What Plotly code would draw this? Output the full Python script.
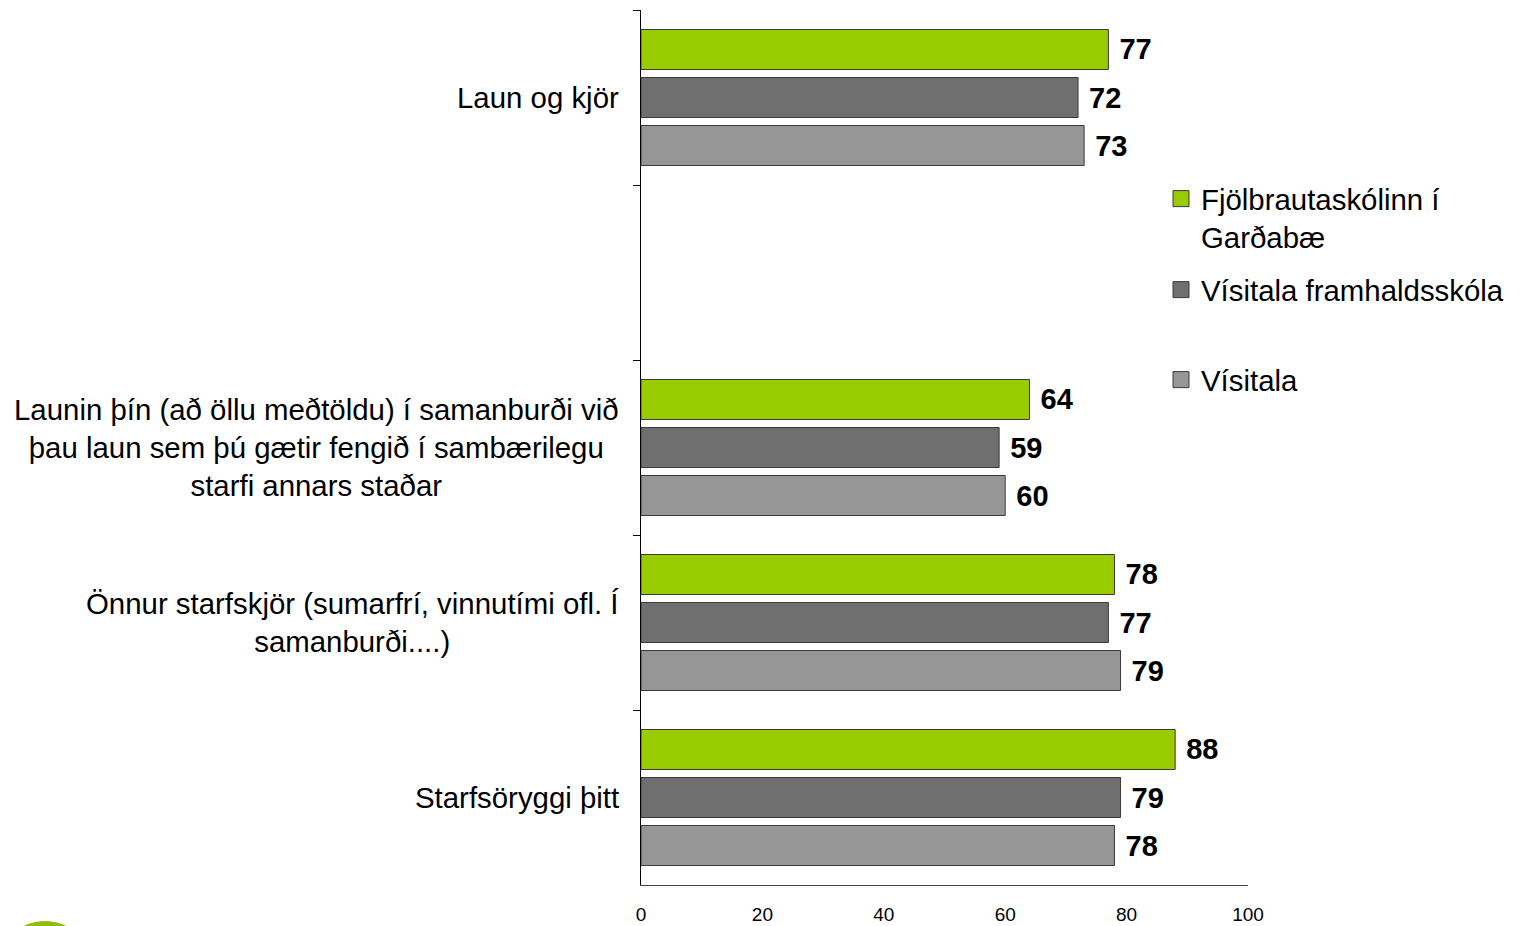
import plotly.graph_objects as go

# ---- data ----
cat_keys = ["c1", "gap", "c2", "c3", "c4"]
cat_labels = [
    "Laun og kjör",
    "",
    "Launin þín (að öllu meðtöldu) í samanburði við<br>þau laun sem þú gætir fengið í sambærilegu<br>starfi annars staðar",
    "Önnur starfskjör (sumarfrí, vinnutími ofl. Í<br>samanburði....)",
    "Starfsöryggi þitt",
]
data_keys = ["c1", "c2", "c3", "c4"]
series_names = ["Fjölbrautaskólinn í<br>Garðabæ", "Vísitala framhaldsskóla", "Vísitala"]
fjolbraut = [77, 64, 78, 88]
visitala_fram = [72, 59, 77, 79]
visitala = [73, 60, 79, 78]
x_ticks = [0, 20, 40, 60, 80, 100]

colors = ["#99CC00", "#6F6F6F", "#969696"]
FONT = "Arial, Liberation Sans, sans-serif"

# page body has an 8px margin: compensate so the plot area lands at 641..1248 x 10..885
W, H = 1516, 918
ML, MR, MT, MB = 633, 276, 2, 41

fig = go.Figure()
legend_ids = ["legend", "legend2", "legend3"]
for name, vals, col, lg in zip(series_names, [fjolbraut, visitala_fram, visitala], colors, legend_ids):
    fig.add_trace(go.Bar(
        y=data_keys, x=vals, orientation="h", name=name,
        marker=dict(color=col, line=dict(color="#3A3A3A", width=1)),
        text=vals, texttemplate=" %{x}", textposition="outside",
        textfont=dict(family=FONT, size=29, color="black", weight="bold"),
        cliponaxis=False, showlegend=False,
    ))
    # legend entry with a larger square swatch
    fig.add_trace(go.Scatter(
        x=[None], y=[None], mode="markers", name=name, legend=lg,
        marker=dict(symbol="square", size=17, color=col, line=dict(color="#3A3A3A", width=1)),
        hoverinfo="skip",
    ))

# category labels (centered multi-line)
for key, lab in zip(cat_keys, cat_labels):
    if lab:
        fig.add_annotation(
            x=0, xref="paper", y=key, yref="y", text=lab, showarrow=False,
            xanchor="right", yanchor="middle", xshift=-20, align="center",
            font=dict(family=FONT, size=29.4, color="black"),
        )

# decorative logo circle at bottom-left (partially visible)
pw, ph = W - ML - MR, H - MT - MB
def px_x(v):
    return (v - 8 - ML) / pw
def px_y(v):
    return (H - MB + 8 - v) / ph
fig.add_shape(type="circle", xref="paper", yref="paper",
              x0=px_x(-2), x1=px_x(92), y0=px_y(1015), y1=px_y(921),
              fillcolor="#8DBE0A", line=dict(width=0), layer="above")

leg_common = dict(font=dict(family=FONT, size=29.4, color="black"),
                  bgcolor="rgba(0,0,0,0)", xanchor="left", yanchor="middle",
                  valign="top", x=px_x(1161), itemsizing="trace")
fig.update_layout(
    width=W, height=H,
    margin=dict(l=ML, r=MR, t=MT, b=MB, autoexpand=False),
    paper_bgcolor="white", plot_bgcolor="white",
    barmode="group", bargap=0.177, bargroupgap=0.167,
    font=dict(family=FONT, color="black"),
    legend=dict(**leg_common, y=px_y(218)),
    legend2=dict(**leg_common, y=px_y(290)),
    legend3=dict(**leg_common, y=px_y(380)),
    xaxis=dict(range=[0, 100], tickvals=x_ticks, ticktext=[str(t) for t in x_ticks],
               showgrid=False, zeroline=False, showline=True, linecolor="#444444",
               linewidth=1, ticks="", ticklabelstandoff=12,
               tickfont=dict(family=FONT, size=19, color="black")),
    yaxis=dict(type="category", categoryorder="array", categoryarray=cat_keys,
               range=[4.5, -0.5], showgrid=False, zeroline=False, showline=True,
               linecolor="black", linewidth=1, ticks="outside", tickson="boundaries",
               ticklen=7, tickcolor="black", showticklabels=False),
    showlegend=True,
)

fig.write_html("out.html")
